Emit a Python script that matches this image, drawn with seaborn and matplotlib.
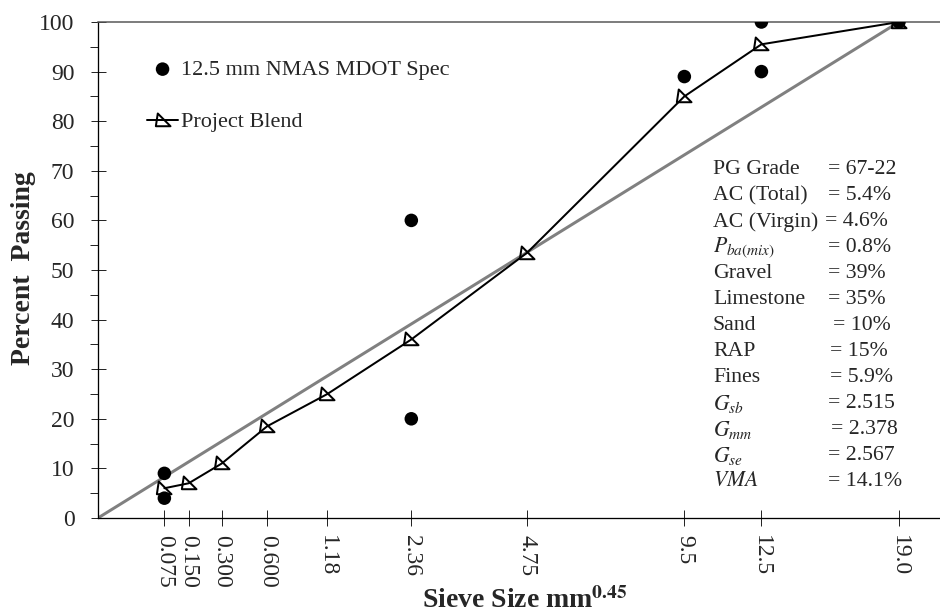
import numpy as np
import pandas as pd
import matplotlib
matplotlib.use("Agg")
import matplotlib.pyplot as plt
from matplotlib.path import Path
from matplotlib.ticker import FixedLocator, MultipleLocator
import seaborn as sns

# ---- data ----
sieve_labels = ["0.075", "0.150", "0.300", "0.600", "1.18", "2.36", "4.75", "9.5", "12.5", "19.0"]
sieve_mm = [0.075, 0.150, 0.300, 0.600, 1.18, 2.36, 4.75, 9.5, 12.5, 19.0]
blend_pct = [6, 7, 11, 18.5, 25, 36, 53.5, 85, 95.5, 100]
spec_sieve = [0.075, 0.075, 2.36, 2.36, 9.5, 12.5, 12.5, 19.0]
spec_pct = [4, 9, 20, 60, 89, 90, 100, 100]
maxden_sieve = [0.0, 19.0]
maxden_pct = [0, 100]
info_labels = ["PG Grade", "AC (Total)", "AC (Virgin)", r"$P_{ba(mix)}$", "Gravel", "Limestone",
               "Sand", "RAP", "Fines", r"$G_{sb}$", r"$G_{mm}$", r"$G_{se}$", r"$VMA$"]
info_values = ["= 67-22", "= 5.4%", "= 4.6%", "= 0.8%", "= 39%", "= 35%", "= 10%",
               "= 15%", "= 5.9%", "= 2.515", "= 2.378", "= 2.567", "= 14.1%"]

# layout only: x pixel of the "=" column on each line
value_x_px = [828, 828, 825, 828, 828, 828, 833, 830, 830, 828, 831, 828, 828]

P = 0.45
sns.set_style("white")
plt.rcParams["font.family"] = ["Liberation Serif", "DejaVu Serif"]
plt.rcParams["mathtext.fontset"] = "stix"

blend_df = pd.DataFrame({"x": np.power(sieve_mm, P), "y": blend_pct})
spec_df = pd.DataFrame({"x": np.power(spec_sieve, P), "y": spec_pct})
md_df = pd.DataFrame({"x": np.power(maxden_sieve, P), "y": maxden_pct})

W, H = 940, 614
PX = 0.72  # points per pixel at 100 dpi
fig = plt.figure(figsize=(9.4, 6.14), dpi=100)
ax = fig.add_axes([98/W, (H-518)/H, 842/W, 496/H])

sns.lineplot(data=md_df, x="x", y="y", ax=ax, color="#808080", linewidth=3*PX,
             label="_nolegend_", zorder=2)

tri = Path([(-0.45, 0.55), (0.55, -0.45), (-0.6, -0.45), (-0.45, 0.55)],
           [Path.MOVETO, Path.LINETO, Path.LINETO, Path.CLOSEPOLY])
sns.lineplot(data=blend_df, x="x", y="y", ax=ax, color="black", linewidth=2*PX,
             marker=tri, markersize=11, markerfacecolor="none", markeredgecolor="black",
             markeredgewidth=2*PX, label="Project Blend", zorder=3, sort=False)
sns.scatterplot(data=spec_df, x="x", y="y", ax=ax, color="black", s=95,
                edgecolor="none", label="12.5 mm NMAS MDOT Spec", zorder=4)

ax.set_xlim(0, 842/212.9)
ax.set_ylim(0, 100)
ax.xaxis.set_major_locator(FixedLocator(np.power(sieve_mm, P)))
ax.set_xticklabels(sieve_labels, rotation=-90, fontsize=17)
ax.yaxis.set_major_locator(MultipleLocator(10))
ax.yaxis.set_minor_locator(MultipleLocator(5))
ax.tick_params(axis="y", which="major", direction="inout", length=15*PX, width=1*PX,
               labelsize=17, pad=16*PX, left=True)
ax.tick_params(axis="y", which="minor", direction="out", length=8*PX, width=1*PX, left=True)
ax.tick_params(axis="x", which="major", direction="inout", length=16*PX, width=1*PX,
               pad=9*PX, bottom=True)

for s in ["left", "bottom"]:
    ax.spines[s].set_color("black")
    ax.spines[s].set_linewidth(1.3*PX)
ax.spines["right"].set_visible(False)
ax.spines["top"].set_color("#555555")
ax.spines["top"].set_linewidth(1.5*PX)

ax.set_xlabel(r"Sieve Size mm$^{\mathbf{0.45}}$", fontsize=20, fontweight="bold")
ax.xaxis.label.set_va("baseline")
ax.xaxis.set_label_coords((525-98)/842, (518-608)/496)
ax.set_ylabel("Percent  Passing", fontsize=20, fontweight="bold")
ax.yaxis.label.set_va("center")
ax.yaxis.set_label_coords((24-98)/842, (518-268)/496)

h, l = ax.get_legend_handles_labels()
order = [l.index("12.5 mm NMAS MDOT Spec"), l.index("Project Blend")]
leg = ax.legend([h[i] for i in order], [l[i] for i in order], loc="upper left",
                bbox_to_anchor=(0.045, 0.947), frameon=False, fontsize=16, labelspacing=1.43,
                handlelength=1.4, handletextpad=0.15, borderpad=0)

y0 = 170
for i, (lab, val) in enumerate(zip(info_labels, info_values)):
    ypx = y0 + i * 26.0
    yf = 1 - ypx / H
    fig.text(713/W, yf, lab, fontsize=15.7, va="center", ha="left")
    fig.text(value_x_px[i]/W, yf, val, fontsize=15.7, va="center", ha="left")

fig.savefig("out.png", dpi=100)
